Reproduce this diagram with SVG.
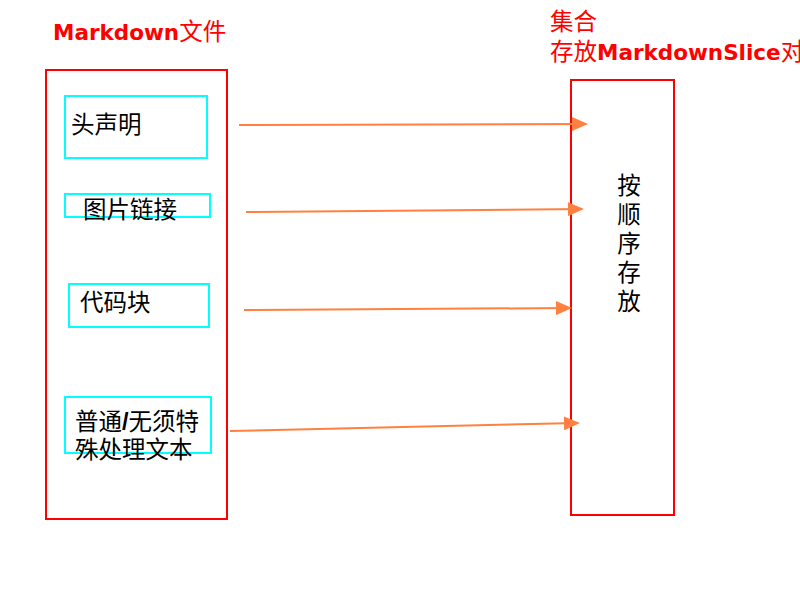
<svg xmlns="http://www.w3.org/2000/svg" width="800" height="600" viewBox="0 0 800 600">
<style>
.frame{fill:none;stroke:#ff0000;stroke-width:2}
.node{fill:none;stroke:#00ffff;stroke-width:2}
.txt{font-family:"Liberation Sans","Noto Sans CJK SC",sans-serif;font-size:23.5px;fill:#000}
.red{font-family:"DejaVu Sans","Noto Sans CJK SC",sans-serif;font-size:21.5px;fill:#ff0000}
.cjk{font-family:"Noto Sans CJK SC",sans-serif;font-weight:normal;font-size:23.5px}
.b{font-weight:bold}
.conn{stroke:#ff8040;stroke-width:2;fill:none;marker-end:url(#ah)}
</style>
<defs>
<marker id="ah" markerWidth="8" markerHeight="7" refX="7" refY="3.5" orient="auto" markerUnits="strokeWidth">
<path d="M0,0 L8,3.5 L0,7 Z" fill="#ff8040"/>
</marker>
</defs>
<g id="title-left"><text class="red" x="53" y="40"><tspan class="b">Markdown</tspan><tspan class="cjk">文件</tspan></text></g>
<g id="title-right"><text class="red" x="550" y="30"><tspan class="cjk">集合</tspan></text><text class="red" x="550" y="60"><tspan class="cjk">存放</tspan><tspan class="b">MarkdownSlice</tspan><tspan class="cjk">对</tspan></text></g>
<g id="markdown-file"><rect class="frame" x="46" y="70" width="181" height="449"/></g>
<g id="header"><rect class="node" x="65" y="96" width="142" height="62"/><text class="txt" x="71" y="133">头声明</text></g>
<g id="image-link"><rect class="node" x="65" y="194" width="145" height="23"/><text class="txt" x="83" y="218">图片链接</text></g>
<g id="code-block"><rect class="node" x="69" y="284" width="140" height="43"/><text class="txt" x="80" y="311">代码块</text></g>
<g id="plain-text"><rect class="node" x="65" y="397" width="146" height="56"/><text class="txt" x="75" y="430">普通<tspan font-weight="bold">/</tspan>无须特</text><text class="txt" x="75" y="458">殊处理文本</text></g>
<g id="collection"><rect class="frame" x="571" y="80" width="103" height="435"/><text class="txt" text-anchor="middle" font-size="22"><tspan x="629" y="194">按</tspan><tspan x="629" y="223">顺</tspan><tspan x="629" y="252">序</tspan><tspan x="629" y="281">存</tspan><tspan x="629" y="310">放</tspan></text></g>
<g id="connectors">
<line class="conn" x1="239" y1="125" x2="586" y2="124"/>
<line class="conn" x1="246" y1="212" x2="582" y2="209"/>
<line class="conn" x1="244" y1="310" x2="570" y2="308"/>
<line class="conn" x1="230" y1="431" x2="578" y2="423"/>
</g>
</svg>
